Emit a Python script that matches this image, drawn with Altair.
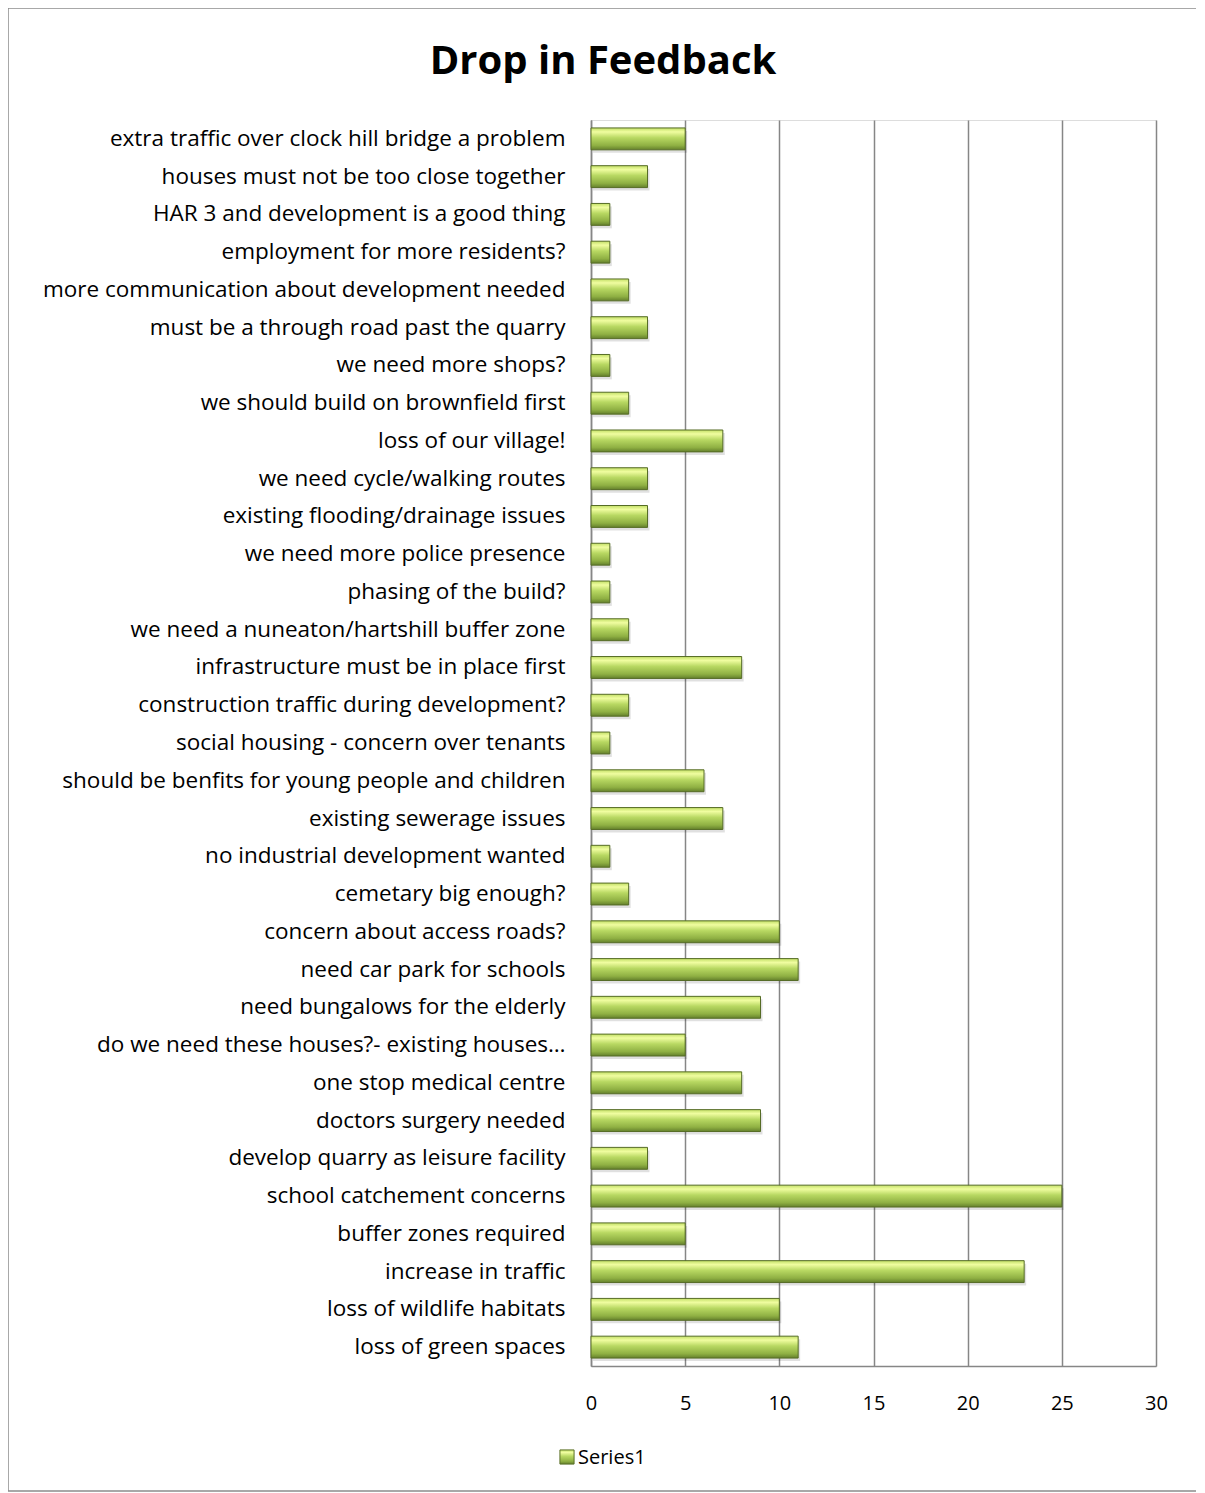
import altair as alt
import pandas as pd

categories = [
    "extra traffic over clock hill bridge a problem",
    "houses must not be too close together",
    "HAR 3 and development is a good thing",
    "employment for more residents?",
    "more communication about development needed",
    "must be a through road past the quarry",
    "we need more shops?",
    "we should build on brownfield first",
    "loss of our village!",
    "we need cycle/walking routes",
    "existing flooding/drainage issues",
    "we need more police presence",
    "phasing of the build?",
    "we need a nuneaton/hartshill buffer zone",
    "infrastructure must be in place first",
    "construction traffic during development?",
    "social housing - concern over tenants",
    "should be benfits for young people and children",
    "existing sewerage issues",
    "no industrial development wanted",
    "cemetary big enough?",
    "concern about access roads?",
    "need car park for schools",
    "need bungalows for the elderly",
    "do we need these houses?- existing houses\u2026",
    "one stop medical centre",
    "doctors surgery needed",
    "develop quarry as leisure facility",
    "school catchement concerns",
    "buffer zones required",
    "increase in  traffic",
    "loss of wildlife habitats",
    "loss of green spaces",
]
values = [5, 3, 1, 1, 2, 3, 1, 2, 7, 3, 3, 1, 1, 2, 8, 2, 1, 6, 7, 1, 2,
          10, 11, 9, 5, 8, 9, 3, 25, 5, 23, 10, 11]
x_ticks = [0, 5, 10, 15, 20, 25, 30]
series_name = "Series1"
chart_title = "Drop in Feedback"

df = pd.DataFrame({"category": categories, "value": values})

FONT = "Open Sans"
GRID = "#868686"

y_enc = alt.Y(
    "category:N",
    sort=categories,
    scale=alt.Scale(paddingInner=0.42, paddingOuter=0.21),
    axis=alt.Axis(
        title=None, labelFontSize=22.5, labelFont=FONT, labelColor="#000000",
        labelLimit=700, ticks=False, tickSize=0, labelPadding=26,
        domainColor=GRID, domainWidth=1.5, grid=False,
    ),
)
x_enc = alt.X(
    "value:Q",
    scale=alt.Scale(domain=[0, 30], nice=False),
    axis=alt.Axis(
        title=None, values=x_ticks, labelFontSize=20, labelFont=FONT,
        labelColor="#000000", ticks=False, tickSize=0, labelPadding=27,
        labelFlush=False,
        domainColor=GRID, domainWidth=1.5, grid=True, gridColor=GRID,
        gridWidth=1.5, gridOpacity=1,
    ),
)

grad = alt.Gradient(
    gradient="linear", x1=0, x2=0, y1=0, y2=1,
    stops=[
        alt.GradientStop(color="#c2df66", offset=0),
        alt.GradientStop(color="#f0fda0", offset=0.18),
        alt.GradientStop(color="#b8d862", offset=0.45),
        alt.GradientStop(color="#8fb043", offset=0.8),
        alt.GradientStop(color="#64802c", offset=1),
    ],
)

base = alt.Chart(df)

shadow = base.mark_bar(color="#000000", opacity=0.12, xOffset=2, yOffset=3).encode(
    x=x_enc, y=y_enc
)
bars = base.mark_bar(fill=grad, stroke="#566c26", strokeWidth=1).encode(
    x=x_enc, y=y_enc
)

leg_df = pd.DataFrame({"label": [series_name]})
leg_sym = alt.Chart(leg_df).mark_square(
    size=200, fill=grad, stroke="#5a7028", strokeWidth=1, opacity=1
).encode(x=alt.value(-24), y=alt.value(1337))
leg_txt = alt.Chart(leg_df).mark_text(
    align="left", baseline="middle", fontSize=20, font=FONT, color="#000000"
).encode(x=alt.value(-13), y=alt.value(1338), text="label:N")

title_df = pd.DataFrame({"t": [chart_title]})
title_txt = alt.Chart(title_df).mark_text(
    align="center", baseline="middle", fontSize=40, font=FONT,
    fontWeight="bold", color="#000000"
).encode(x=alt.value(12), y=alt.value(-58), text="t:N")

border = alt.Chart(leg_df).mark_rect(
    fill=None, stroke="#8c8c8c", strokeWidth=1.5
).encode(x=alt.value(-583), x2=alt.value(608), y=alt.value(-112), y2=alt.value(1371))

chart = alt.layer(border, shadow, bars, leg_sym, leg_txt, title_txt).properties(
    width=565,
    height=1246,
    autosize=alt.AutoSizeParams(type="none"),
    padding={"left": 583, "top": 112, "right": 40, "bottom": 130},
).configure_view(stroke=None).configure(background="white")

chart.save("out.html", embed_options={"renderer": "svg", "actions": False})
